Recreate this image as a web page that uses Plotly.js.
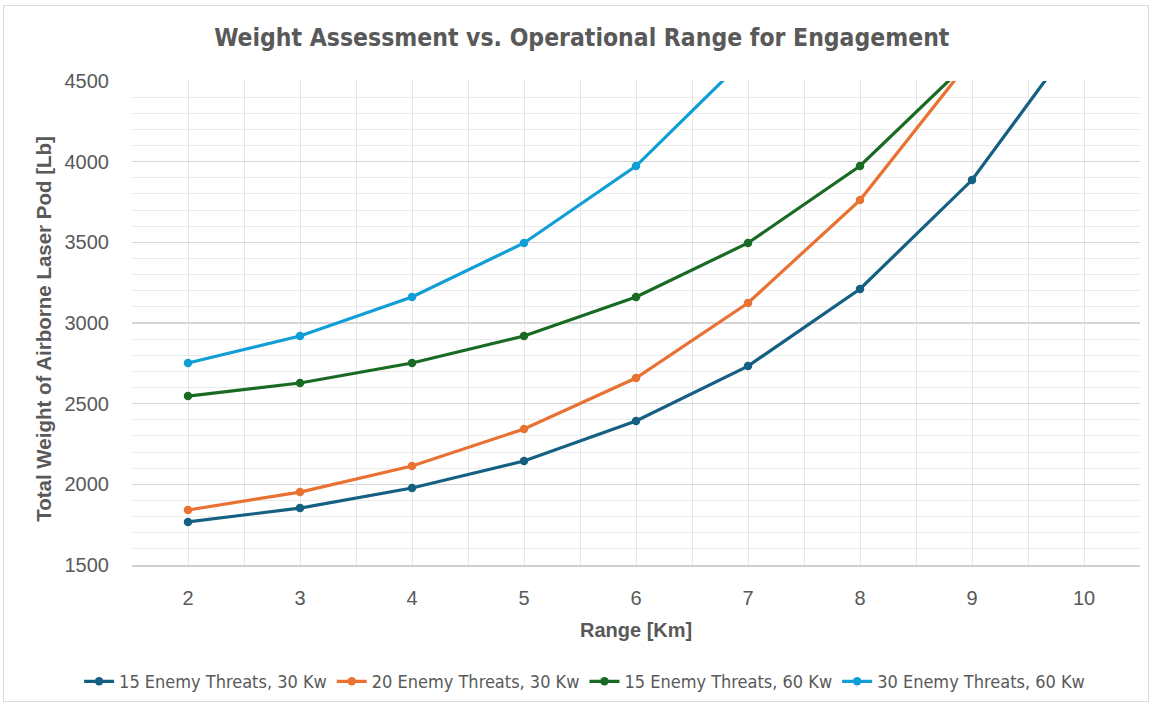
<!DOCTYPE html>
<html>
<head>
<meta charset="utf-8">
<script src="https://cdn.plot.ly/plotly-3.0.1.min.js"></script>
<style>
  html, body { margin: 0; padding: 0; background: #ffffff; }
  #wrap { position: relative; width: 1152px; height: 707px; }
  #chart { width: 1152px; height: 707px; }
  #frame { position: absolute; left: 3px; top: 5px; width: 1146px; height: 697px;
           border: 1px solid #d9d9d9; box-sizing: border-box; pointer-events: none; }
</style>
</head>
<body>
<div id="wrap">
  <div id="chart"></div>
  <div id="frame"></div>
</div>
<script>
// ---- data ----
const seriesNames = [
  "15 Enemy Threats, 30 Kw",
  "20 Enemy Threats, 30 Kw",
  "15 Enemy Threats, 60 Kw",
  "30 Enemy Threats, 60 Kw"
];
const range15_30 = [2, 3, 4, 5, 6, 7, 8, 9, 10];
const weight15_30 = [1767, 1853, 1977, 2145, 2393, 2733, 3211, 3886, 4830];
const range20_30 = [2, 3, 4, 5, 6, 7, 8, 9];
const weight20_30 = [1841, 1952, 2114, 2343, 2659, 3124, 3762, 4640];
const range15_60 = [2, 3, 4, 5, 6, 7, 8, 9];
const weight15_60 = [2547, 2628, 2752, 2919, 3161, 3496, 3973, 4640];
const range30_60 = [2, 3, 4, 5, 6, 7];
const weight30_60 = [2752, 2919, 3161, 3496, 3973, 4655];
const xTickVals = [2, 3, 4, 5, 6, 7, 8, 9, 10];
const yTickVals = [1500, 2000, 2500, 3000, 3500, 4000, 4500];
const colors = ["#156082", "#E97132", "#196B24", "#0F9ED5"];

const xs = [range15_30, range20_30, range15_60, range30_60];
const ys = [weight15_30, weight20_30, weight15_60, weight30_60];

const traces = seriesNames.map((n, i) => ({
  type: "scatter",
  mode: "lines+markers",
  name: n,
  x: xs[i],
  y: ys[i],
  line: { color: colors[i], width: 3.2 },
  marker: { color: colors[i], size: 8.5 },
  cliponaxis: true
}));

const tickFont = { family: "Liberation Sans, Arial, sans-serif", size: 20, color: "#595959" };
const narrow = "Liberation Sans Narrow, DejaVu Sans Condensed, sans-serif";

const layout = {
  width: 1152,
  height: 707,
  margin: { l: 132, r: 12, t: 81, b: 142, autoexpand: false },
  paper_bgcolor: "#ffffff",
  plot_bgcolor: "#ffffff",
  title: {
    text: "<b>Weight Assessment vs. Operational Range for Engagement</b>",
    font: { family: narrow, size: 24.5, color: "#595959" },
    x: 0.505, xanchor: "center", y: 0.947, yanchor: "middle"
  },
  xaxis: {
    range: [1.5, 10.5],
    tickvals: xTickVals,
    ticktext: xTickVals.map(String),
    showgrid: true,
    gridcolor: "#e6e6e6",
    gridwidth: 1,
    minor: { dtick: 0.5, tick0: 0, showgrid: true, gridcolor: "#e6e6e6", gridwidth: 1 },
    zeroline: false,
    showline: true,
    linecolor: "#d0d0d0",
    linewidth: 1.5,
    ticks: "",
    ticklen: 0,
    tickfont: tickFont,
    ticklabelstandoff: 14,
    automargin: false,
    fixedrange: true
  },
  yaxis: {
    range: [1500, 4500],
    tickvals: yTickVals,
    ticktext: yTickVals.map(String),
    showgrid: true,
    gridcolor: "#d6d6d6",
    gridwidth: 1.5,
    minor: { dtick: 100, tick0: 0, showgrid: true, gridcolor: "#ececec", gridwidth: 1 },
    zeroline: false,
    showline: false,
    ticks: "",
    tickfont: tickFont,
    ticklabelstandoff: 22,
    automargin: false,
    fixedrange: true
  },
  showlegend: true,
  legend: {
    orientation: "h",
    x: 0.449, xanchor: "center",
    y: -0.241, yanchor: "middle",
    font: { family: narrow, size: 18, color: "#595959" },
    itemwidth: 30,
    tracegroupgap: 0
  },
  annotations: [
    {
      text: "<b>Range [Km]</b>",
      xref: "paper", yref: "paper",
      x: 0.5, y: -0.134, xanchor: "center", yanchor: "middle",
      showarrow: false,
      font: { family: "Liberation Sans, Arial, sans-serif", size: 20, color: "#595959" }
    },
    {
      text: "<b>Total Weight of Airborne Laser Pod [Lb]</b>",
      xref: "paper", yref: "paper",
      x: -0.0873, y: 0.488, xanchor: "center", yanchor: "middle",
      textangle: -90,
      showarrow: false,
      font: { family: "Liberation Sans, Arial, sans-serif", size: 20.5, color: "#595959" }
    }
  ]
};

Plotly.newPlot("chart", traces, layout, { displayModeBar: false, responsive: false, staticPlot: true });
</script>
</body>
</html>
